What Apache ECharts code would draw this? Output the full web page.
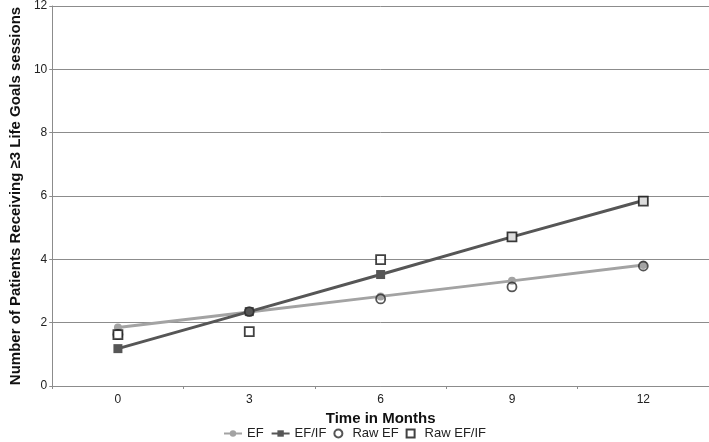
<!DOCTYPE html>
<html>
<head>
<meta charset="utf-8">
<script src="https://cdn.jsdelivr.net/npm/echarts@6/dist/echarts.min.js"></script>
<style>
  html, body { margin: 0; padding: 0; background: #fff; }
  #chart { width: 709px; height: 442px; }
</style>
</head>
<body>
<div id="chart"></div>
<script>
// months on the x axis
var months = ["0", "3", "6", "9", "12"];
// fitted lines
var efFit = [1.85, 2.34, 2.83, 3.32, 3.82];
var efifFit = [1.18, 2.35, 3.52, 4.71, 5.86];
// raw observations
var rawEf = [1.63, 2.35, 2.75, 3.13, 3.79];
var rawEfif = [1.62, 1.72, 3.99, 4.71, 5.84];

var chart = echarts.init(document.getElementById("chart"));

var option = {
  animation: false,
  textStyle: { fontFamily: "Liberation Sans, Arial, sans-serif" },
  grid: { left: 34, right: 0, top: 4, bottom: 56 },
  legend: {
    top: 422,
    left: "center",
    itemWidth: 18,
    itemHeight: 8,
    itemGap: 7,
    textStyle: { fontSize: 13, color: "#222" },
    data: [
      { name: "EF" },
      { name: "EF/IF" },
      { name: "Raw EF", icon: "path://M5,0A5,5,0,1,1,4.99,0Z" },
      { name: "Raw EF/IF", icon: "path://M0,0H10V10H0Z" }
    ]
  },
  xAxis: {
    type: "category",
    data: months,
    name: "Time in Months",
    nameLocation: "middle",
    nameGap: 18,
    nameTextStyle: { fontWeight: "bold", fontSize: 15, color: "#111" },
    axisLine: { lineStyle: { color: "#8c8c8c", width: 1 } },
    axisTick: { show: true, length: 3, lineStyle: { color: "#8c8c8c" } },
    axisLabel: { fontSize: 12, color: "#222", margin: 8 }
  },
  yAxis: {
    type: "value",
    min: 0,
    max: 12,
    interval: 2,
    name: "Number of Patients Receiving ≥3 Life Goals sessions",
    nameLocation: "middle",
    nameGap: 22,
    nameTextStyle: { fontWeight: "bold", fontSize: 15, color: "#111" },
    axisLine: { show: true, lineStyle: { color: "#8c8c8c", width: 1 } },
    axisTick: { show: true, length: 3, lineStyle: { color: "#8c8c8c" } },
    axisLabel: { fontSize: 12, color: "#222", margin: 5 },
    splitLine: { lineStyle: { color: "#8c8c8c", width: 1 } }
  },
  series: [
    {
      name: "EF",
      type: "line",
      data: efFit,
      symbol: "circle",
      symbolSize: 8,
      lineStyle: { color: "#a3a3a3", width: 3 },
      itemStyle: { color: "#a3a3a3" },
      z: 2
    },
    {
      name: "EF/IF",
      type: "line",
      data: efifFit,
      symbol: "rect",
      symbolSize: 9,
      lineStyle: { color: "#565656", width: 3 },
      itemStyle: { color: "#565656" },
      z: 3
    },
    {
      name: "Raw EF",
      type: "scatter",
      data: rawEf,
      symbol: "circle",
      symbolSize: 9,
      itemStyle: { color: "rgba(0,0,0,0)", borderColor: "#2a2a2a", borderWidth: 1.8 },
      z: 4
    },
    {
      name: "Raw EF/IF",
      type: "scatter",
      data: rawEfif,
      symbol: "rect",
      symbolSize: 9,
      itemStyle: { color: "#fff", borderColor: "#111", borderWidth: 1.8 },
      z: 5
    }
  ]
};

chart.setOption(option);
</script>
</body>
</html>
